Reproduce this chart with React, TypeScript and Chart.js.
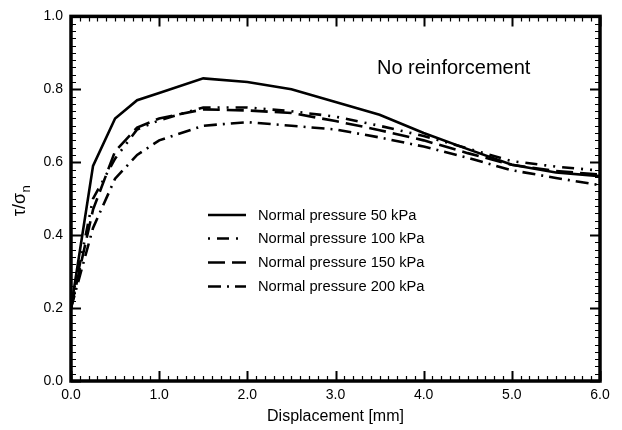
import React, { useEffect, useRef } from "react";
import { Chart, registerables } from "chart.js";

Chart.register(...registerables);

const displacement = [0, 0.25, 0.5, 0.75, 1.0, 1.5, 2.0, 2.5, 3.0, 3.5, 4.0, 4.5, 5.0, 5.5, 6.0];
const ratio50 = [0.2, 0.59, 0.72, 0.77, 0.79, 0.83, 0.82, 0.80, 0.765, 0.73, 0.68, 0.636, 0.593, 0.572, 0.562];
const ratio100 = [0.2, 0.50, 0.61, 0.69, 0.715, 0.75, 0.75, 0.74, 0.725, 0.70, 0.672, 0.638, 0.603, 0.588, 0.577];
const ratio150 = [0.2, 0.47, 0.63, 0.695, 0.72, 0.745, 0.742, 0.735, 0.713, 0.688, 0.66, 0.625, 0.593, 0.576, 0.566];
const ratio200 = [0.2, 0.42, 0.555, 0.62, 0.66, 0.70, 0.71, 0.70, 0.69, 0.668, 0.643, 0.612, 0.578, 0.557, 0.537];

const seriesLabels = [
  "Normal pressure 50 kPa",
  "Normal pressure 100 kPa",
  "Normal pressure 150 kPa",
  "Normal pressure 200 kPa",
];
const annotationText = "No reinforcement";
const xTitle = "Displacement [mm]";
const xTickValues = [0, 1, 2, 3, 4, 5, 6];
const yTickValues = [0, 0.2, 0.4, 0.6, 0.8, 1.0];

const FONT = "'Liberation Sans', Arial, Helvetica, sans-serif";

const framePlugin = {
  id: "frameTicks",
  afterDatasetsDraw(chart: any) {
    const { ctx, chartArea } = chart;
    const xs = chart.scales.x;
    const ys = chart.scales.y;
    const { left, right, top, bottom } = chartArea;
    ctx.save();
    ctx.strokeStyle = "#000";
    for (let i = 0; i <= 60; i++) {
      const v = i / 10;
      const px = Math.round(xs.getPixelForValue(v)) + 0.5;
      const major = i % 10 === 0;
      const len = major ? 10 : 5;
      ctx.lineWidth = major ? 2 : 1.2;
      ctx.beginPath();
      ctx.moveTo(px, bottom);
      ctx.lineTo(px, bottom - len);
      ctx.moveTo(px, top);
      ctx.lineTo(px, top + len);
      ctx.stroke();
    }
    for (let i = 0; i <= 50; i++) {
      const v = i / 50;
      const py = Math.round(ys.getPixelForValue(v)) + 0.5;
      const major = i % 10 === 0;
      const len = major ? 10 : 5;
      ctx.lineWidth = major ? 2 : 1.2;
      ctx.beginPath();
      ctx.moveTo(left, py);
      ctx.lineTo(left + len, py);
      ctx.moveTo(right, py);
      ctx.lineTo(right - len, py);
      ctx.stroke();
    }
    ctx.lineWidth = 3.5;
    ctx.strokeRect(left, top, right - left, bottom - top);

    ctx.fillStyle = "#000";
    ctx.font = `20px ${FONT}`;
    ctx.textAlign = "center";
    ctx.textBaseline = "alphabetic";
    ctx.fillText(annotationText, xs.getPixelForValue(4.34), ys.getPixelForValue(0.843));

    const legendX0 = 208;
    const legendX1 = 246;
    const rowYs = [215, 238.5, 262.5, 286.5];
    chart.data.datasets.forEach((ds: any, i: number) => {
      const y = rowYs[i];
      ctx.save();
      ctx.lineWidth = ds.borderWidth;
      ctx.setLineDash(ds.legendDash || []);
      ctx.lineCap = "butt";
      ctx.beginPath();
      ctx.moveTo(legendX0, y);
      ctx.lineTo(legendX1, y);
      ctx.stroke();
      ctx.restore();
      ctx.font = `14.7px ${FONT}`;
      ctx.textAlign = "left";
      ctx.textBaseline = "middle";
      ctx.fillText(ds.label, 258, y + 0.5);
    });

    ctx.font = `16px ${FONT}`;
    ctx.textAlign = "center";
    ctx.textBaseline = "alphabetic";
    ctx.fillText(xTitle, (left + right) / 2, 421);

    ctx.save();
    ctx.translate(25, 201);
    ctx.rotate(-Math.PI / 2);
    ctx.font = `18px ${FONT}`;
    const main = "τ/σ";
    const w = ctx.measureText(main).width;
    ctx.font = `13px ${FONT}`;
    const sw = ctx.measureText("n").width;
    const total = w + sw;
    ctx.font = `18px ${FONT}`;
    ctx.textAlign = "left";
    ctx.fillText(main, -total / 2, 0);
    ctx.font = `13px ${FONT}`;
    ctx.fillText("n", -total / 2 + w + 0.5, 5);
    ctx.restore();

    ctx.restore();
  },
};

export default function App() {
  const ref = useRef<HTMLCanvasElement | null>(null);
  useEffect(() => {
    if (!ref.current) return;
    const mk = (arr: number[]) => displacement.map((x, i) => ({ x, y: arr[i] }));
    const chart = new Chart(ref.current, {
      type: "line",
      data: {
        datasets: [
          { label: seriesLabels[0], data: mk(ratio50), borderColor: "#000", borderWidth: 2.6, borderDash: [], pointRadius: 0, tension: 0, legendDash: [] } as any,
          { label: seriesLabels[1], data: mk(ratio100), borderColor: "#000", borderWidth: 2.6, borderDash: [12, 7, 2, 7, 2, 7], pointRadius: 0, tension: 0, legendDash: [2, 7, 12, 7, 2, 30] } as any,
          { label: seriesLabels[2], data: mk(ratio150), borderColor: "#000", borderWidth: 2.6, borderDash: [17, 7], pointRadius: 0, tension: 0, legendDash: [17, 7] } as any,
          { label: seriesLabels[3], data: mk(ratio200), borderColor: "#000", borderWidth: 2.6, borderDash: [13, 6, 2, 6], pointRadius: 0, tension: 0, legendDash: [13, 6, 2, 6] } as any,
        ],
      },
      options: {
        animation: false,
        responsive: false,
        maintainAspectRatio: false,
        layout: { padding: { left: 0, right: 22, top: 15, bottom: 0 } },
        plugins: { legend: { display: false }, tooltip: { enabled: false }, title: { display: false } },
        scales: {
          x: {
            type: "linear",
            min: 0,
            max: 6,
            afterBuildTicks: (s: any) => { s.ticks = xTickValues.map((v) => ({ value: v })); },
            afterFit: (s: any) => { s.height = 49; },
            grid: { display: false, drawTicks: false },
            border: { display: false },
            ticks: { color: "#000", font: { family: FONT, size: 14 }, padding: 6, callback: (v: any) => Number(v).toFixed(1) },
          },
          y: {
            type: "linear",
            min: 0,
            max: 1,
            afterBuildTicks: (s: any) => { s.ticks = yTickValues.map((v) => ({ value: v })); },
            afterFit: (s: any) => { s.width = 71; },
            grid: { display: false, drawTicks: false },
            border: { display: false },
            ticks: { color: "#000", font: { family: FONT, size: 14 }, padding: 8, callback: (v: any) => Number(v).toFixed(1) },
          },
        },
      } as any,
      plugins: [framePlugin],
    });
    return () => chart.destroy();
  }, []);
  return (
    <div style={{ position: "absolute", left: 0, top: 0, width: 622, height: 430, background: "#fff" }}>
      <canvas ref={ref} width={622} height={430} style={{ display: "block" }} />
    </div>
  );
}
